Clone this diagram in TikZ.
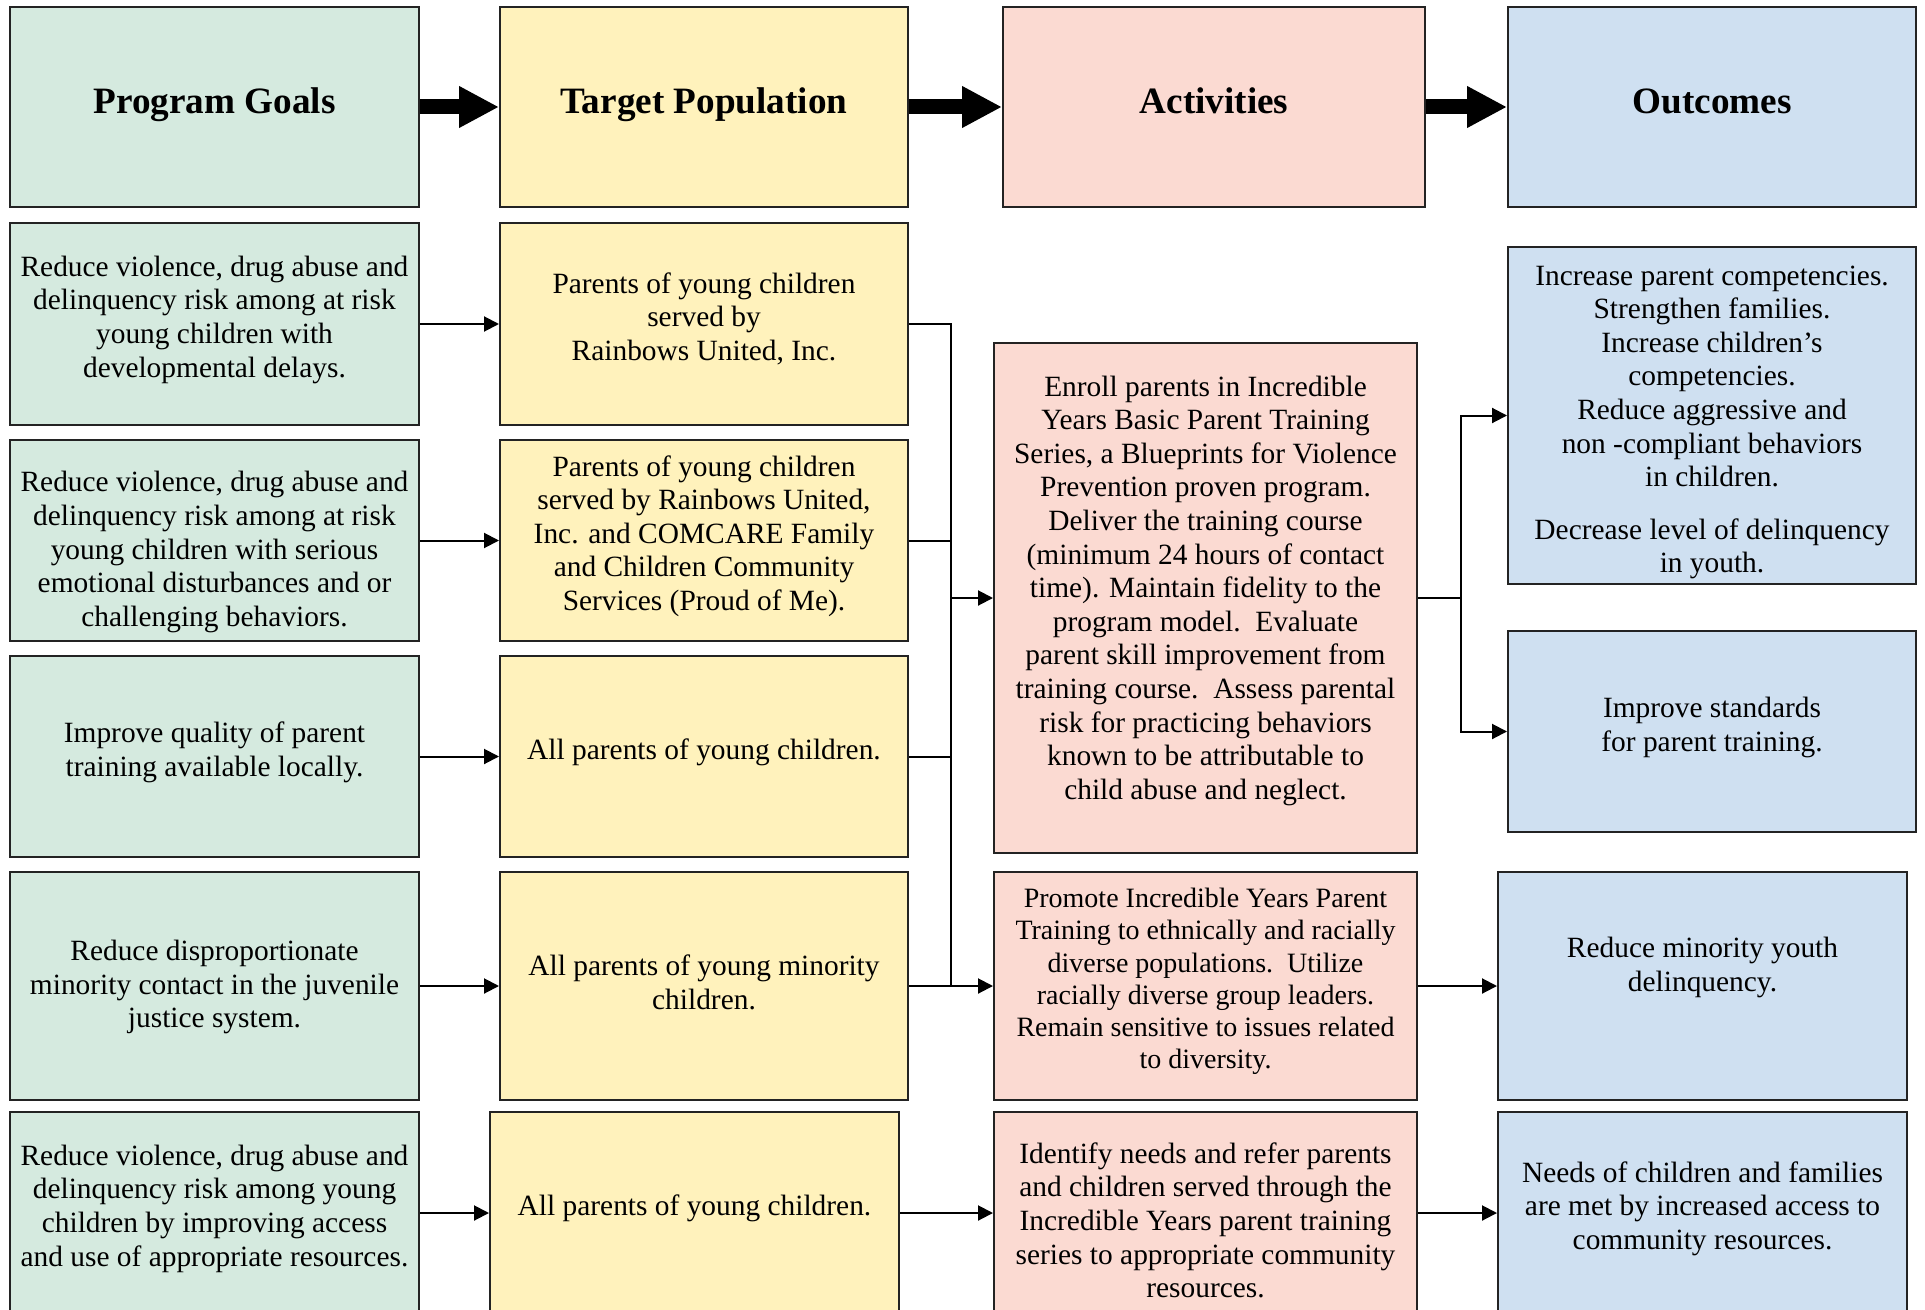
\documentclass[tikz,border=0pt]{standalone}
\usepackage{fontspec}
\setmainfont{Liberation Serif}
\usetikzlibrary{arrows.meta,positioning}
\definecolor{goalfill}{RGB}{213,234,223}
\definecolor{popfill}{RGB}{255,242,188}
\definecolor{actfill}{RGB}{251,218,210}
\definecolor{outfill}{RGB}{207,224,241}
\definecolor{edgegray}{RGB}{35,35,35}

\begin{document}
\begin{tikzpicture}[x=0.5pt,y=-0.5pt,>={Triangle[length=7.5pt,width=7.5pt]},line width=1pt,
	plainbox/.style={draw=edgegray,line width=1pt,inner sep=2pt,align=center},
	box/.style={plainbox,font=\fontsize{14.7}{16.8}\selectfont,text depth=7.5pt},
	smallbox/.style={box,font=\fontsize{14}{16.1}\selectfont},
	headbox/.style={plainbox,font=\fontsize{18.6}{22}\selectfont\bfseries,text height=12pt,text depth=5.5pt},
	boxsize/.style 2 args={minimum width=#1*0.5pt,minimum height=#2*0.5pt},
	goalbox/.style={fill=goalfill},
	popbox/.style={fill=popfill},
	actbox/.style={fill=actfill},
	outbox/.style={fill=outfill},
	bigarrow/.style={line width=7.5pt,-{Triangle[length=20pt,width=19.5pt]}}]

	\clip (0,0) rectangle (1925,1310);
	\fill[white] (0,0) rectangle (1925,1310);

	\node[headbox,goalbox,boxsize={409}{200}] (hgoal) at (214.5,107) {Program Goals};
	\node[headbox,popbox,boxsize={408}{200}] (hpop) at (704,107) {Target Population};
	\node[headbox,actbox,boxsize={422}{200}] (hact) at (1214,107) {Activities};
	\node[headbox,outbox,boxsize={408}{200}] (hout) at (1712,107) {Outcomes};

	\node[box,goalbox,boxsize={409}{202}] (g1) at (214.5,324) {Reduce violence, drug abuse and\\delinquency risk among at risk\\young children with\\developmental delays.};
	\node[box,goalbox,boxsize={409}{201},text height=85.8pt,text depth=0pt] (g2) at (214.5,540.5) {Reduce violence, drug abuse and\\delinquency risk among at risk\\young children with serious\\emotional disturbances and or\\challenging behaviors.};
	\node[box,goalbox,boxsize={409}{201}] (g3) at (214.5,756.5) {Improve quality of parent\\training available locally.};
	\node[box,goalbox,boxsize={409}{228},text depth=2pt] (g4) at (214.5,986) {Reduce disproportionate\\minority contact in the juvenile\\justice system.};
	\node[box,goalbox,boxsize={409}{202}] (g5) at (214.5,1213) {Reduce violence, drug abuse and\\delinquency risk among young\\children by improving access\\and use of appropriate resources.};

	\node[box,popbox,boxsize={408}{202}] (p1) at (704,324) {Parents of young children\\served by\\Rainbows United, Inc.};
	\node[box,popbox,boxsize={408}{201}] (p2) at (704,540.5) {Parents of young children\\served by Rainbows United,\\Inc. and COMCARE Family\\and Children Community\\Services (Proud of Me).};
	\node[box,popbox,boxsize={408}{201}] (p3) at (704,756.5) {All parents of young children.};
	\node[box,popbox,boxsize={408}{228},text depth=3.8pt] (p4) at (704,986) {All parents of young minority\\children.};
	\node[box,popbox,boxsize={409}{202}] (p5) at (694.5,1213) {All parents of young children.};

	\node[box,actbox,boxsize={423}{510},text depth=10.6pt] (a1) at (1205.5,598) {Enroll parents in Incredible\\Years Basic Parent Training\\Series, a Blueprints for Violence\\Prevention proven program.\\Deliver the training course\\(minimum 24 hours of contact\\time). Maintain fidelity to the\\program model.\ \ Evaluate\\parent skill improvement from\\training course.\ \ Assess parental\\risk for practicing behaviors\\known to be attributable to\\child abuse and neglect.};
	\node[smallbox,actbox,boxsize={423}{228}] (a2) at (1205.5,986) {Promote Incredible Years Parent\\Training to ethnically and racially\\diverse populations.\ \ Utilize\\racially diverse group leaders.\\Remain sensitive to issues related\\to diversity.};
	\node[box,actbox,boxsize={423}{202},text height=84.6pt,text depth=0pt] (a3) at (1205.5,1213) {Identify needs and refer parents\\and children served through the\\Incredible Years parent training\\series to appropriate community\\resources.};

	\node[box,outbox,boxsize={408}{337},text height=157.3pt,text depth=0pt] (o1) at (1712,415.5) {Increase parent competencies.\\Strengthen families.\\Increase children’s\\competencies.\\Reduce aggressive and\\non -compliant behaviors\\in children.\\[9.5pt]Decrease level of delinquency\\in youth.};
	\node[box,outbox,boxsize={408}{201}] (o2) at (1712,731.5) {Improve standards\\for parent training.};
	\node[box,outbox,boxsize={409}{228},text depth=21.9pt] (o3) at (1702.5,986) {Reduce minority youth\\delinquency.};
	\node[box,outbox,boxsize={409}{202}] (o4) at (1702.5,1213) {Needs of children and families\\are met by increased access to\\community resources.};

	\coordinate (bus) at (951,0);
	\coordinate (fork) at (1461,0);

	\draw[bigarrow] (hgoal) -- (hpop);
	\draw[bigarrow] (hpop) -- (hact);
	\draw[bigarrow] (hact) -- (hout);

	\draw[->] (g1) -- (p1);
	\draw[->] (g2) -- (p2);
	\draw[->] (g3) -- (p3);
	\draw[->] (g4) -- (p4);
	\draw[->] (g5) -- (p5);

	\draw (p1.east) -| (p4.east -| bus);
	\draw (p2.east) -- (p2.east -| bus);
	\draw (p3.east) -- (p3.east -| bus);
	\draw[->] (a1.west -| bus) -- (a1.west);
	\draw[->] (p4) -- (a2);
	\draw[->] (p5) -- (a3);

	\draw (a1.east) -- (a1.east -| fork);
	\draw[->] (a1.east -| fork) |- (o1.west);
	\draw[->] (a1.east -| fork) |- (o2.west);
	\draw[->] (a2) -- (o3);
	\draw[->] (a3) -- (o4);
\end{tikzpicture}
\end{document}
